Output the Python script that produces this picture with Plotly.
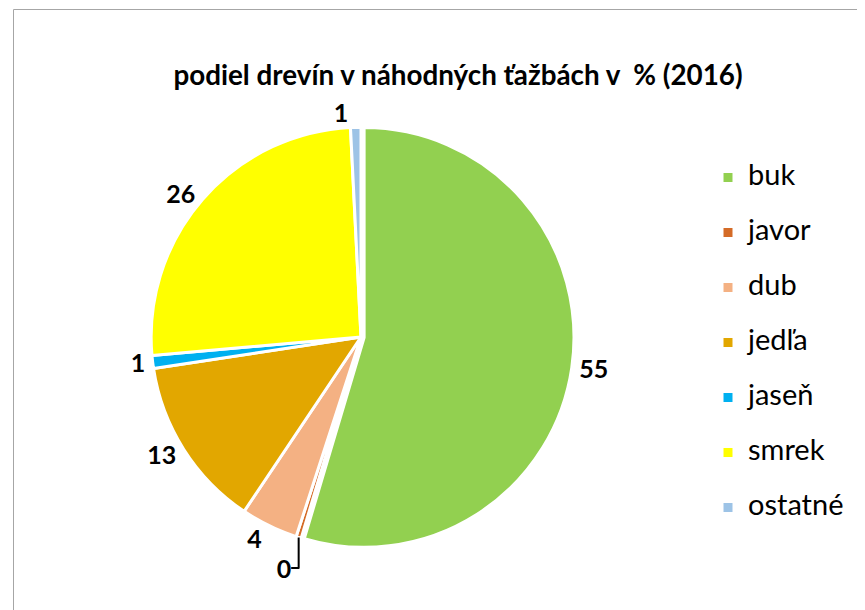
import plotly.graph_objects as go

labels = ["buk", "javor", "dub", "jedľa", "jaseň", "smrek", "ostatné"]
values = [54.6, 0.4, 4.4, 13.2, 1.0, 25.6, 0.8]
colors = ["#92D050", "#D46B27", "#F4B183", "#E2A700", "#00B0F0", "#FFFF00", "#9DC3E6"]
pulls = [0.015, 0, 0, 0, 0, 0, 0]

W, H = 865, 610
cx, cy, r = 353, 329, 213

fig = go.Figure(go.Pie(
    labels=["<span style='font-size:29px'>" + l + "</span><br> " for l in labels],
    values=values,
    sort=False,
    direction="clockwise",
    rotation=0,
    pull=pulls,
    marker=dict(colors=colors, line=dict(color="white", width=3)),
    texttemplate="%{value:.0f}",
    textposition="outside",
    textfont=dict(family="Lato", size=25, color="black", weight="bold"),
    hoverinfo="value",
    domain=dict(x=[(cx - r) / W, (cx + r) / W], y=[1 - (cy + r) / H, 1 - (cy - r) / H]),
))

fig.update_layout(
    width=W, height=H,
    margin=dict(l=0, r=0, t=0, b=0),
    paper_bgcolor="white",
    title=dict(text="<b>podiel drevín v náhodných ťažbách v  % (2016)</b>",
               x=450 / W, xanchor="center", y=1 - 67 / H, yanchor="middle",
               font=dict(family="Lato", size=27.8, color="black")),
    legend=dict(x=700 / W, y=1 - 150 / H, xanchor="left", yanchor="top",
                font=dict(family="Lato", size=20, color="black"),
                valign="top", bgcolor="rgba(0,0,0,0)"),
    shapes=[dict(type="rect", xref="paper", yref="paper",
                 x0=5.5 / W, x1=1.2, y0=-0.2, y1=1 - 1.5 / H,
                 line=dict(color="#A6A6A6", width=1), fillcolor="rgba(0,0,0,0)")],
)

fig.write_html("out.html")
